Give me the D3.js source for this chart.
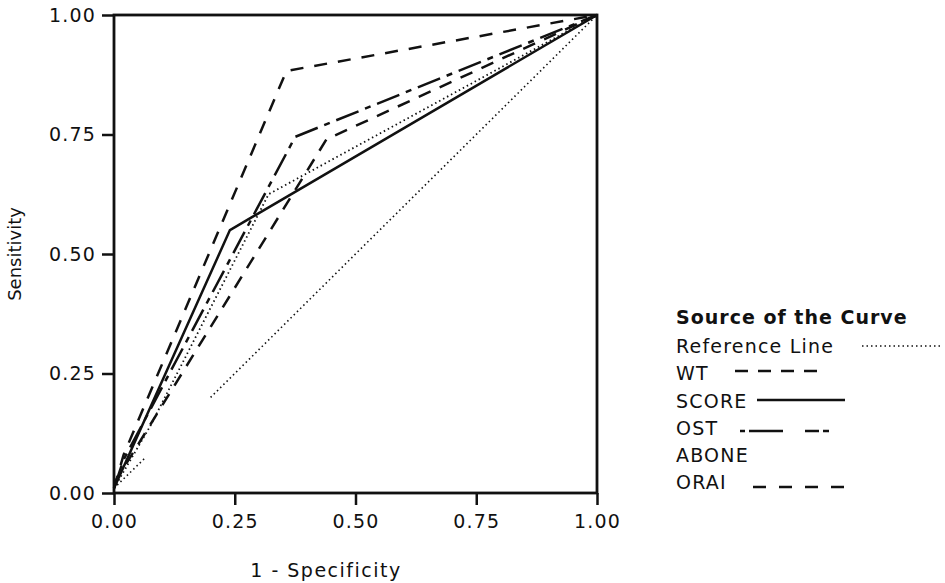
<!DOCTYPE html>
<html>
<head>
<meta charset="utf-8">
<script src="https://cdn.jsdelivr.net/npm/d3@7"></script>
<style>
  html, body { margin: 0; padding: 0; background: #fff; }
  svg text { font-family: "DejaVu Sans", sans-serif; fill: #111; }
</style>
</head>
<body>
<svg id="chart" width="945" height="583"></svg>
<script>
// ---- data (1 - specificity, sensitivity) ----
const seriesNames = ["Reference Line", "WT", "SCORE", "OST", "ABONE", "ORAI"];
const xTicks = [0, 0.25, 0.5, 0.75, 1];
const yTicks = [0, 0.25, 0.5, 0.75, 1];
const refSegA = [[0, 0.01], [0.064, 0.073]];
const refSegB = [[0.2, 0.2], [1, 1]];
const wtPts = [[0, 0.02], [0.44, 0.74], [1, 1]];
const scorePts = [[0, 0.01], [0.24, 0.55], [1, 1]];
const ostPts = [[0, 0.01], [0.02, 0.07], [0.375, 0.745], [1, 1]];
const abonePts = [[0, 0.01], [0.075, 0.14], [0.32, 0.625], [1, 1]];
const oraiPts = [[0, 0.01], [0.02, 0.08], [0.357, 0.883], [1, 1]];

const svg = d3.select("#chart");
const mLeft = 114, mRight = 597, mTop = 15, mBottom = 493;
const x = d3.scaleLinear().domain([0, 1]).range([mLeft, mRight]);
const y = d3.scaleLinear().domain([0, 1]).range([mBottom, mTop]);
const line = d3.line().x(d => x(d[0])).y(d => y(d[1]));

const styles = {
  "Reference Line": { dash: "1.5,3", w: 1.6 },
  "WT": { dash: "13,10", w: 2.5 },
  "SCORE": { dash: null, w: 2.5 },
  "OST": { dash: "24,7,6,7", w: 2.5 },
  "ABONE": { dash: "1.5,3", w: 1.8 },
  "ORAI": { dash: "13,11", w: 2.5 }
};
function draw(pts, name) {
  const s = styles[name];
  svg.append("path").datum(pts).attr("d", line)
    .attr("fill", "none").attr("stroke", "#111")
    .attr("stroke-width", s.w)
    .attr("stroke-dasharray", s.dash);
}
draw(refSegA, "Reference Line");
draw(refSegB, "Reference Line");
draw(abonePts, "ABONE");
draw(scorePts, "SCORE");
draw(wtPts, "WT");
draw(ostPts, "OST");
draw(oraiPts, "ORAI");

// frame
svg.append("rect").attr("x", mLeft).attr("y", mTop)
  .attr("width", mRight - mLeft).attr("height", mBottom - mTop)
  .attr("fill", "none").attr("stroke", "#111").attr("stroke-width", 2.8);

// axes
const xAxis = svg.append("g").attr("transform", `translate(0,${mBottom})`)
  .call(d3.axisBottom(x).tickValues(xTicks).tickFormat(d3.format(".2f")).tickSize(12).tickPadding(10));
const yAxis = svg.append("g").attr("transform", `translate(${mLeft},0)`)
  .call(d3.axisLeft(y).tickValues(yTicks).tickFormat(d3.format(".2f")).tickSize(12).tickPadding(6));
[xAxis, yAxis].forEach(g => {
  g.select(".domain").remove();
  g.selectAll(".tick line").attr("stroke", "#111").attr("stroke-width", 2.5);
  g.selectAll(".tick text").attr("font-size", 19).attr("fill", "#111")
    .attr("letter-spacing", 1.2)
    .style("font-family", "DejaVu Sans, sans-serif");
});

svg.append("text").attr("x", 326).attr("y", 577)
  .attr("text-anchor", "middle").attr("font-size", 19).attr("letter-spacing", 1.5)
  .text("1 - Specificity");
svg.append("text").attr("transform", `translate(21,${(mTop + mBottom) / 2}) rotate(-90)`)
  .attr("text-anchor", "middle").attr("font-size", 18).text("Sensitivity");

// legend
const lg = svg.append("g").attr("transform", "translate(676,0)");
lg.append("text").attr("x", 0).attr("y", 324).attr("font-size", 19)
  .attr("font-weight", "bold").attr("letter-spacing", 1).text("Source of the Curve");
const rowY = [346, 373, 401, 428, 455, 482];
const sampleY = [346, 371, 400, 431, null, 487];
const sampleX = [[186, 264], [59, 141], [81, 169], [64, 153], null, [77, 171]];
const legendDash = {
  "Reference Line": "1.5,3",
  "WT": "13,10",
  "SCORE": null,
  "OST": "5,4,34,22,14,4,6,100",
  "ORAI": "13,13"
};
seriesNames.forEach((n, i) => {
  lg.append("text").attr("x", 0).attr("y", rowY[i] + 7).attr("font-size", 19)
    .attr("letter-spacing", 1.2).text(n);
  if (sampleX[i]) {
    const s = styles[n];
    lg.append("line").attr("x1", sampleX[i][0]).attr("x2", sampleX[i][1])
      .attr("y1", sampleY[i]).attr("y2", sampleY[i])
      .attr("stroke", "#111").attr("stroke-width", s.w)
      .attr("stroke-dasharray", legendDash[n]);
  }
});
</script>
</body>
</html>
